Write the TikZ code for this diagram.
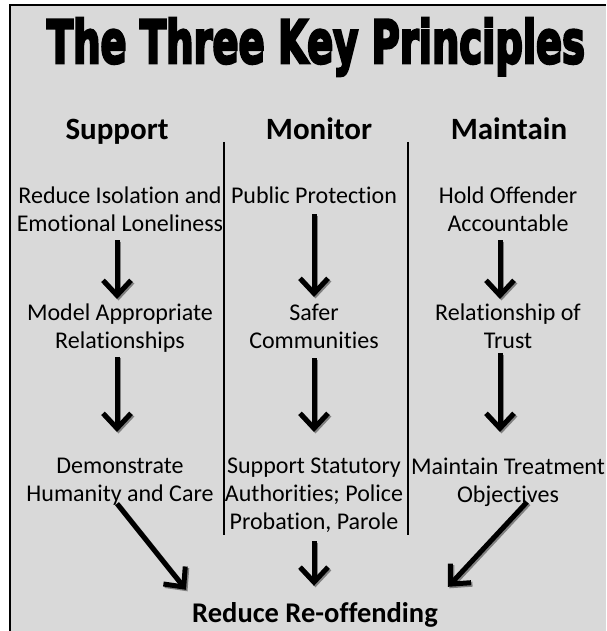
\documentclass[tikz,border=0pt]{standalone}
\usepackage{fontspec}
\setmainfont{Carlito}[Ligatures=NoCommon]
\newfontfamily\titlefont{DejaVu Sans}[FakeBold=5]
\usetikzlibrary{arrows.meta}
\definecolor{boxgrey}{HTML}{D9D9D9}
\definecolor{shadowgrey}{HTML}{808080}
\tikzset{
	txt/.style={font=\fontsize{24}{28}\selectfont, align=center, anchor=north, inner sep=0pt},
	head/.style={font=\fontsize{31}{36}\selectfont\bfseries, anchor=base, inner sep=0pt},
	arr/.style={line width=5pt, -{Straight Barb[length=15pt,width=28pt]}},
	arrshadow/.style={arr, draw=shadowgrey, transform canvas={shift={(1.5,1.5)}}},
	sep/.style={line width=1.5pt}
}
\begin{document}
\begin{tikzpicture}[x=1pt,y=-1pt]
	\pgfmathsetmacro{\rowA}{187};
	\pgfmathsetmacro{\rowB}{304};
	\pgfmathsetmacro{\rowC}{458};
%
	\useasboundingbox (0,0) rectangle (606,631);
	\fill[boxgrey] (10,5) rectangle (606,631);
	\draw[line width=2.5pt] (10,631) -- (10,5) -- (606,5);
	\node[anchor=base, inner sep=0pt] (title) at (316,63) {\resizebox{538pt}{45pt}{\titlefont\bfseries The Three Key Principles}};
%
	\draw[sep] (224,142) -- (224,535);
	\draw[sep] (408,142) -- (408,535);
%
	\begin{scope}[shift={(120,0)}]
		\node[head] (support) at (-3,140) {Support};
		\node[txt] (s1) at (0,\rowA) {Reduce Isolation and\\Emotional Loneliness};
		\node[txt] (s2) at (0,\rowB) {Model Appropriate\\Relationships};
		\node[txt] (s3) at (0,\rowC) {Demonstrate\\Humanity and Care};
	\end{scope}
	\begin{scope}[shift={(314,0)}]
		\node[head] (monitor) at (5,140) {Monitor};
		\node[txt] (m1) at (0,\rowA) {Public Protection};
		\node[txt] (m2) at (0,\rowB) {Safer\\Communities};
		\node[txt] (m3) at (0,\rowC) {Support Statutory\\Authorities; Police\\Probation, Parole};
	\end{scope}
	\begin{scope}[shift={(508,0)}]
		\node[head] (maintain) at (1,140) {Maintain};
		\node[txt] (k1) at (0,\rowA) {Hold Offender\\Accountable};
		\node[txt] (k2) at (0,\rowB) {Relationship of\\Trust};
		\node[txt] (k3) at (0,\rowC) {Maintain Treatment\\Objectives};
	\end{scope}
	\node[head, font=\fontsize{28.5}{34}\selectfont\bfseries] (goal) at (315,622) {Reduce Re-offending};
%
	\foreach \a/\b/\xs/\s/\e in {s1/s2/-3/8/5, s2/s3/-3/4/26, m1/m2/0/10/7, m2/m3/0/9/26, k1/k2/-8/8/5, k2/k3/-8/4/26} {
		\draw[arrshadow, shorten <=\s, shorten >=\e] ([xshift=\xs]\a.south) -- ([xshift=\xs]\b.north);
		\draw[arr, shorten <=\s, shorten >=\e] ([xshift=\xs]\a.south) -- ([xshift=\xs]\b.north);
	}
	\foreach \p in {arrshadow, arr} {
		\draw[\p] ([xshift=-3,yshift=2]s3.south) -- ([xshift=-6,yshift=12]goal.north west);
		\draw[\p, shorten <=8, shorten >=16] (m3.south) -- (m3.south |- goal.north);
		\draw[\p] ([xshift=19,yshift=5]k3.south) -- ([xshift=10,yshift=15]goal.north east);
	}
\end{tikzpicture}
\end{document}
